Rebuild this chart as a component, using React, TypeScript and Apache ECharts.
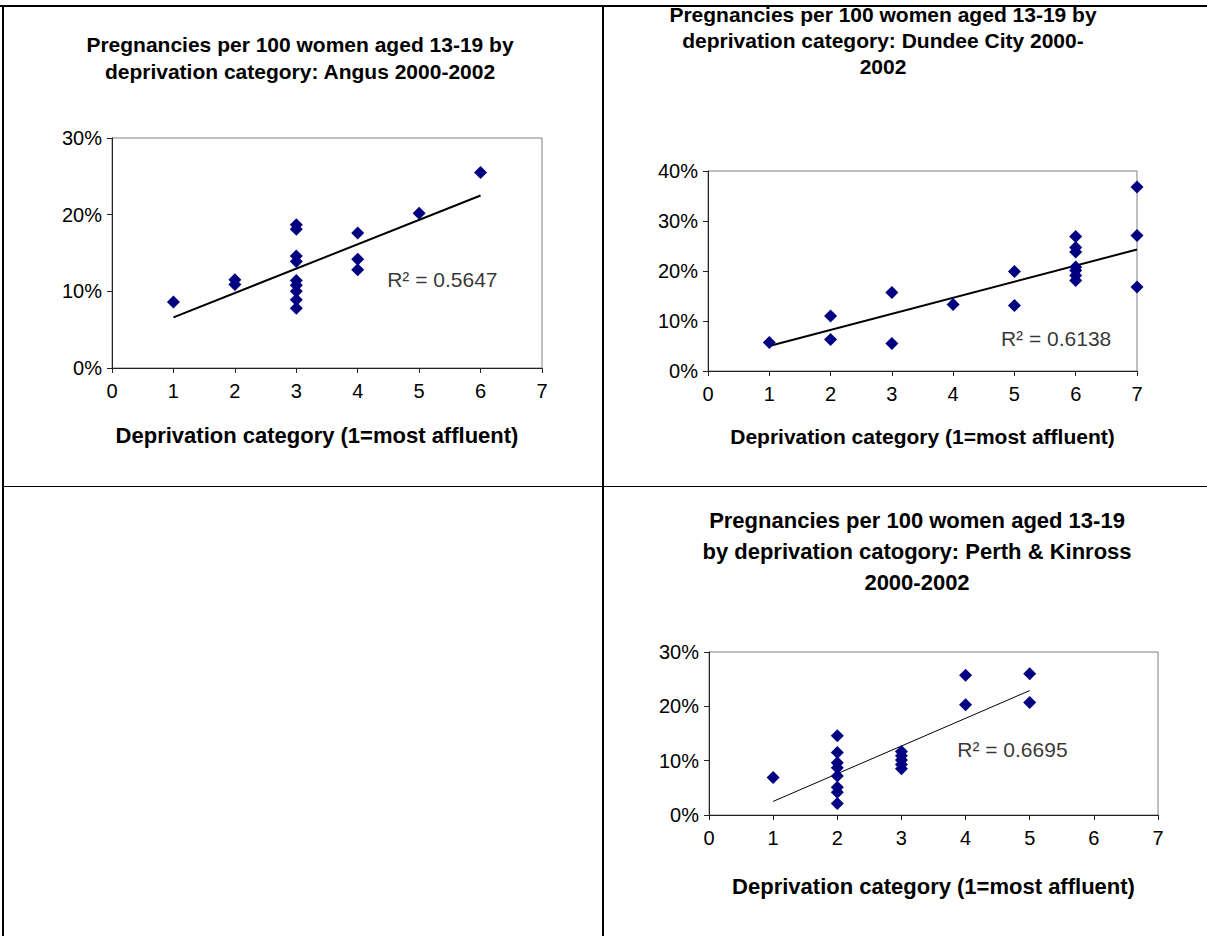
import React, { useEffect, useRef } from "react";
import * as echarts from "echarts";

const FONT = '"Liberation Sans", Arial, Helvetica, sans-serif';

// Angus
const angusPoints: [number, number][] = [
  [1, 8.6], [2, 11.5], [2, 10.9], [3, 18.7], [3, 18.1], [3, 14.6], [3, 13.9],
  [3, 11.4], [3, 10.8], [3, 10.0], [3, 8.9], [3, 7.8], [4, 17.6], [4, 14.2],
  [4, 12.8], [5, 20.2], [6, 25.5],
];
const angusTrend: [number, number][] = [[1, 6.6], [6, 22.5]];
const angusR2Pos: [number, number] = [4.48, 11.5];
const angusR2 = "R² = 0.5647";
const angusTitle = "Pregnancies per 100 women aged 13-19 by\ndeprivation category: Angus 2000-2002";

// Dundee City
const dundeePoints: [number, number][] = [
  [1, 5.7], [2, 11.0], [2, 6.3], [3, 15.7], [3, 5.5], [4, 13.3], [5, 19.9],
  [5, 13.1], [6, 26.9], [6, 24.7], [6, 23.8], [6, 20.8], [6, 20.1], [6, 19.1],
  [6, 18.1], [7, 36.8], [7, 27.1], [7, 16.8],
];
const dundeeTrend: [number, number][] = [[1, 5.0], [7, 24.3]];
const dundeeR2Pos: [number, number] = [4.78, 6.5];
const dundeeR2 = "R² = 0.6138";
const dundeeTitle = "Pregnancies per 100 women aged 13-19 by\ndeprivation category: Dundee City 2000-\n2002";

// Perth & Kinross
const perthPoints: [number, number][] = [
  [1, 6.9], [2, 14.6], [2, 11.5], [2, 9.6], [2, 8.7], [2, 7.2], [2, 5.1],
  [2, 4.2], [2, 2.1], [3, 11.7], [3, 10.9], [3, 10.1], [3, 9.3], [3, 8.5],
  [4, 25.7], [4, 20.3], [5, 26.0], [5, 20.7],
];
const perthTrend: [number, number][] = [[1, 2.5], [5, 22.9]];
const perthR2Pos: [number, number] = [3.87, 12.0];
const perthR2 = "R² = 0.6695";
const perthTitle = "Pregnancies per 100 women aged 13-19\nby deprivation catogory: Perth & Kinross\n2000-2002";

const xAxisName = "Deprivation category (1=most affluent)";
const xTicks = { min: 0, max: 7, interval: 1 };
const yAngus = { min: 0, max: 30, interval: 10 };
const yDundee = { min: 0, max: 40, interval: 10 };
const yPerth = { min: 0, max: 30, interval: 10 };

const MARK = "#000080";

function makeX(gridIndex: number, nameGap: number, nameSize: number, namePad: number[]) {
  return {
    type: "value" as const,
    gridIndex,
    ...xTicks,
    name: xAxisName,
    nameLocation: "middle" as const,
    nameGap,
    nameTextStyle: {
      fontFamily: FONT,
      fontSize: nameSize,
      fontWeight: "bold",
      color: "#000",
      padding: namePad,
    },
    axisLine: { show: true, lineStyle: { color: "#222", width: 1 } },
    axisTick: { show: true, inside: false, length: 5, lineStyle: { color: "#222" } },
    axisLabel: { fontFamily: FONT, fontSize: 20, color: "#000", margin: 13 },
    splitLine: { show: false },
  };
}

function makeY(gridIndex: number, range: { min: number; max: number; interval: number }) {
  return {
    type: "value" as const,
    gridIndex,
    ...range,
    axisLine: { show: true, lineStyle: { color: "#222", width: 1 } },
    axisTick: { show: true, inside: false, length: 5, lineStyle: { color: "#222" } },
    axisLabel: { fontFamily: FONT, fontSize: 20, color: "#000", margin: 10, formatter: "{value}%" },
    splitLine: { show: false },
  };
}

function seriesFor(idx: number, pts: [number, number][], trend: [number, number][], trendW: number, r2Pos: [number, number], r2: string) {
  return [
    {
      type: "line" as const,
      xAxisIndex: idx,
      yAxisIndex: idx,
      data: trend,
      symbol: "none",
      lineStyle: { color: "#000", width: trendW },
      silent: true,
      z: 2,
    },
    {
      type: "scatter" as const,
      xAxisIndex: idx,
      yAxisIndex: idx,
      data: pts,
      symbol: "diamond",
      symbolSize: 13,
      itemStyle: { color: MARK, opacity: 1 },
      z: 3,
    },
    {
      type: "scatter" as const,
      xAxisIndex: idx,
      yAxisIndex: idx,
      data: [r2Pos],
      symbolSize: 0,
      silent: true,
      label: {
        show: true,
        position: "right",
        distance: 0,
        formatter: r2,
        fontFamily: FONT,
        fontSize: 21,
        color: "#000",
        verticalAlign: "middle",
      },
      z: 4,
    },
  ];
}

function titleText(x: number, y: number, text: string, fontSize: number, lineHeight: number) {
  return {
    type: "text",
    x,
    y,
    style: {
      text,
      fill: "#000",
      fontFamily: FONT,
      fontSize,
      fontWeight: "bold",
      align: "center",
      verticalAlign: "top",
      lineHeight,
    },
  };
}

function border(x1: number, y1: number, x2: number, y2: number, w: number) {
  return {
    type: "line",
    shape: { x1, y1, x2, y2 },
    style: { stroke: "#000", lineWidth: w },
    silent: true,
  };
}

export default function App() {
  const ref = useRef<HTMLDivElement>(null);
  useEffect(() => {
    if (!ref.current) return;
    const chart = echarts.init(ref.current, undefined, { renderer: "svg" });
    const gridStyle = { show: true, borderColor: "#808080", borderWidth: 1, backgroundColor: "transparent" };
    chart.setOption({
      animation: false,
      backgroundColor: "#fff",
      grid: [
        { left: 112, top: 138, width: 430, height: 230, ...gridStyle },
        { left: 708, top: 171, width: 429, height: 200, ...gridStyle },
        { left: 709, top: 652, width: 449, height: 163, ...gridStyle },
      ],
      xAxis: [
        makeX(0, 56, 22, [0, 20, 0, 0]),
        makeX(1, 55, 21, [0, 0, 0, 0]),
        makeX(2, 60, 22, [0, 0, 0, 0]),
      ],
      yAxis: [makeY(0, yAngus), makeY(1, yDundee), makeY(2, yPerth)],
      series: [
        ...seriesFor(0, angusPoints, angusTrend, 2, angusR2Pos, angusR2),
        ...seriesFor(1, dundeePoints, dundeeTrend, 2, dundeeR2Pos, dundeeR2),
        ...seriesFor(2, perthPoints, perthTrend, 1, perthR2Pos, perthR2),
      ],
      graphic: [
        border(0, 6, 1207, 6, 2),
        border(3, 5, 3, 936, 2),
        border(603, 5, 603, 936, 2),
        border(2, 486.5, 1207, 486.5, 1),
        titleText(300, 31, angusTitle, 21, 27),
        titleText(883, 1, dundeeTitle, 21, 26),
        titleText(917, 505, perthTitle, 22, 31),
      ],
    });
    return () => chart.dispose();
  }, []);
  return (
    <div
      ref={ref}
      style={{ position: "absolute", left: 0, top: 0, width: 1207, height: 936 }}
    />
  );
}
